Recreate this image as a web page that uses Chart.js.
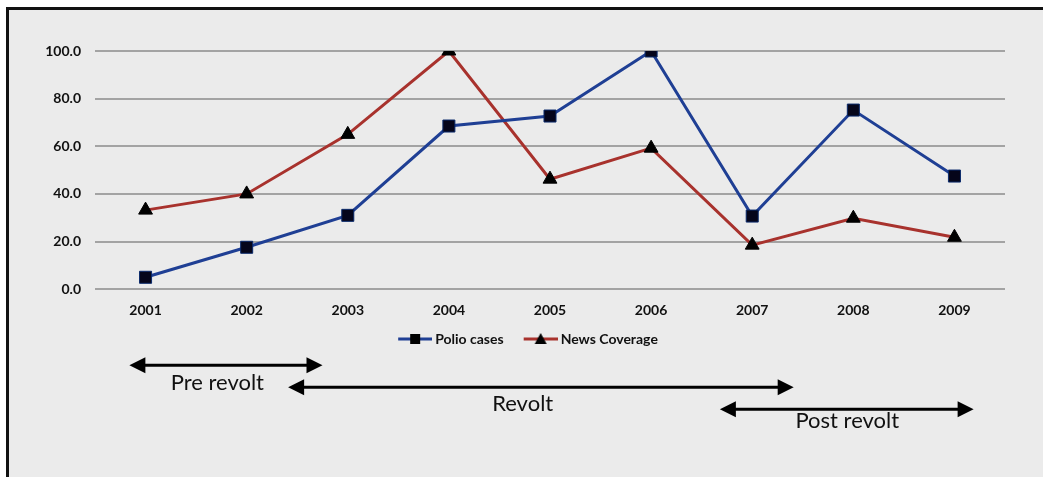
<!DOCTYPE html>
<html>
<head>
<meta charset="utf-8">
<script src="https://cdn.jsdelivr.net/npm/chart.js@4/dist/chart.umd.min.js"></script>
<style>
  html, body { margin: 0; padding: 0; background: #fff; overflow: hidden; }
  body { width: 1043px; height: 477px; position: relative; }
  #frame {
    position: absolute; left: 6px; top: 7px;
    width: 1100px; height: 500px;
    border: 3px solid #111; background: #ebebeb;
  }
  #wrap { position: absolute; left: 0; top: 0; width: 1034px; height: 467px; }
</style>
</head>
<body>
<div id="frame"><div id="wrap"><canvas id="chart"></canvas></div></div>
<script>
// Values (percent of each series' peak year).
const years = ["2001", "2002", "2003", "2004", "2005", "2006", "2007", "2008", "2009"];
const polioCases = [5.0, 17.6, 31.0, 68.5, 72.7, 100.0, 30.7, 75.2, 47.5];
const newsCoverage = [33.2, 40.0, 65.0, 100.0, 46.2, 59.2, 18.5, 29.8, 21.8];
const yTicks = [0, 20, 40, 60, 80, 100];

// Periods marked with arrows under the chart, as spans in year units.
const periodLabels = ["Pre revolt", "Revolt", "Post revolt"];
const periodStart = [2000.84, 2002.41, 2006.68];
const periodEnd = [2002.75, 2007.41, 2009.19];

const BLUE = "#1f3f94";
const RED = "#a8322d";
const FONT = "Lato, 'Open Sans', sans-serif";

// Legend swatch = short line with the series marker on it, like the original.
// The transparent strip on the left gives the gap between legend items.
function legendIcon(color, shape) {
  const c = document.createElement("canvas");
  c.width = 50; c.height = 14;
  const g = c.getContext("2d");
  g.strokeStyle = color; g.lineWidth = 3;
  g.beginPath(); g.moveTo(16, 7); g.lineTo(50, 7); g.stroke();
  g.fillStyle = "#000";
  if (shape === "rect") {
    g.fillRect(28, 2, 10, 10);
  } else {
    g.beginPath(); g.moveTo(33, 1); g.lineTo(39, 12); g.lineTo(27, 12); g.closePath(); g.fill();
  }
  return c;
}
const legendIcons = [legendIcon(BLUE, "rect"), legendIcon(RED, "triangle")];

// Double-headed arrows with captions, placed on the category scale.
const periodArrows = {
  id: "periodArrows",
  afterDraw(chart, args, opts) {
    const { ctx, chartArea, scales } = chart;
    const x = scales.x;
    const base = Number(years[0]);
    ctx.save();
    ctx.strokeStyle = "#000";
    ctx.lineWidth = 3;
    periodLabels.forEach((label, i) => {
      const x1 = x.getPixelForValue(periodStart[i] - base);
      const x2 = x.getPixelForValue(periodEnd[i] - base);
      const y = chartArea.bottom + opts.rows[i];
      const head = 16, half = 8;
      ctx.fillStyle = "#000";
      ctx.beginPath(); ctx.moveTo(x1 + head - 2, y); ctx.lineTo(x2 - head + 2, y); ctx.stroke();
      ctx.beginPath(); ctx.moveTo(x1, y); ctx.lineTo(x1 + head, y - half); ctx.lineTo(x1 + head, y + half); ctx.closePath(); ctx.fill();
      ctx.beginPath(); ctx.moveTo(x2, y); ctx.lineTo(x2 - head, y - half); ctx.lineTo(x2 - head, y + half); ctx.closePath(); ctx.fill();
      ctx.font = `22px ${FONT}`;
      ctx.textAlign = "center";
      ctx.textBaseline = "middle";
      ctx.fillStyle = "#111";
      ctx.fillText(label, x.getPixelForValue(opts.textAt[i] - base), chartArea.bottom + opts.textRows[i]);
    });
    ctx.restore();
  },
};

const tickFont = { family: FONT, size: 14, weight: "bold" };

new Chart(document.getElementById("chart"), {
  type: "line",
  data: {
    labels: years,
    datasets: [
      {
        label: "Polio cases", data: polioCases,
        borderColor: BLUE, borderWidth: 3,
        pointStyle: "rect", pointRadius: 8.5,
        pointBackgroundColor: "#05051a", pointBorderColor: "#0b2a6b", pointBorderWidth: 1,
      },
      {
        label: "News Coverage", data: newsCoverage,
        borderColor: RED, borderWidth: 3,
        pointStyle: "triangle", pointRadius: 8,
        pointBackgroundColor: "#000", pointBorderColor: "#000", pointBorderWidth: 1,
      },
    ],
  },
  options: {
    responsive: true,
    maintainAspectRatio: false,
    animation: false,
    // Right gap is split between padding and an empty right axis so the
    // full-width legend centres where the original's does.
    layout: { padding: { top: 41, right: 8, left: 0, bottom: 121 } },
    plugins: {
      tooltip: { enabled: false },
      legend: {
        position: "bottom",
        labels: {
          usePointStyle: true,
          pointStyleWidth: 42,
          padding: 8,
          color: "#111",
          font: { family: FONT, size: 14, weight: "bold" },
          generateLabels: (chart) =>
            Chart.defaults.plugins.legend.labels.generateLabels(chart)
              .map((l, i) => ({ ...l, pointStyle: legendIcons[i] })),
        },
      },
      periodArrows: {
        rows: [76, 98, 120],
        textRows: [94, 115, 132],
        textAt: [2001.71, 2004.73, 2007.94],
      },
    },
    scales: {
      x: {
        offset: true,
        grid: { display: false },
        border: { display: false },
        ticks: { color: "#111", font: tickFont, padding: 5 },
      },
      y: {
        min: 0, max: 100,
        afterBuildTicks: (s) => { s.ticks = yTicks.map((v) => ({ value: v })); },
        afterFit: (s) => { s.width = 86; },
        grid: { color: "#a3a3a3", lineWidth: 2, drawTicks: false },
        border: { display: false },
        ticks: { color: "#111", font: tickFont, padding: 14, callback: (v) => Number(v).toFixed(1) },
      },
      spacer: {
        type: "linear",
        position: "right",
        afterFit: (s) => { s.width = 30; },
        grid: { display: false },
        border: { display: false },
        ticks: { display: false },
      },
    },
  },
  plugins: [periodArrows],
});
</script>
</body>
</html>
